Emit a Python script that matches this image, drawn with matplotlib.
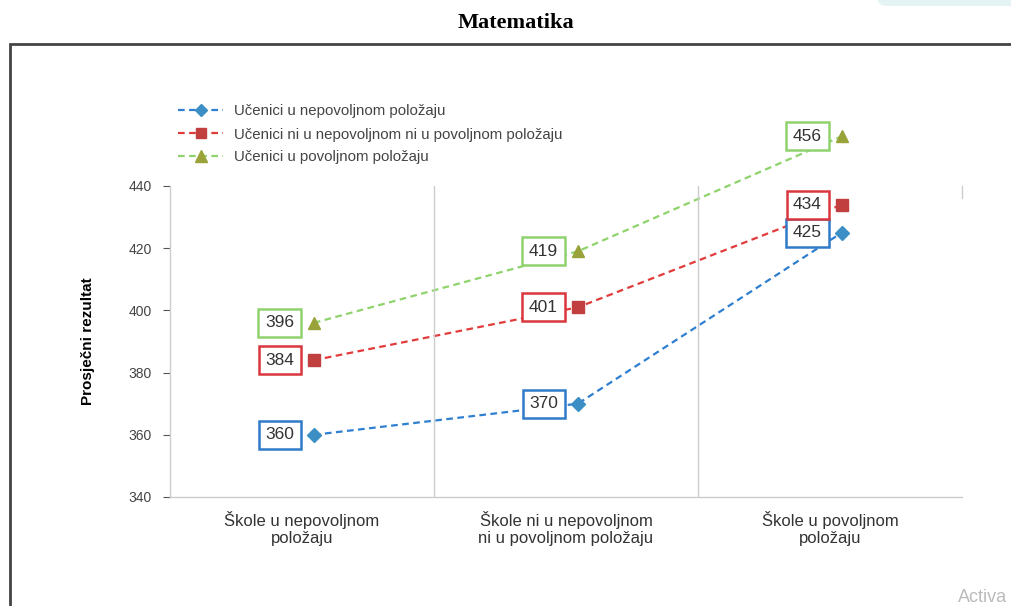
import matplotlib.pyplot as plt
from matplotlib.patches import Rectangle, FancyBboxPatch

# data
categories = ['Škole u nepovoljnom\npoložaju',
              'Škole ni u nepovoljnom\nni u povoljnom položaju',
              'Škole u povoljnom\npoložaju']
series_names = ['Učenici u nepovoljnom položaju',
                'Učenici ni u nepovoljnom ni u povoljnom položaju',
                'Učenici u povoljnom položaju']
nepovoljni = [360, 370, 425]
srednji = [384, 401, 434]
povoljni = [396, 419, 456]

plt.rcParams['font.family'] = ['Liberation Sans', 'DejaVu Sans']

fig = plt.figure(figsize=(10.12, 6.06), dpi=100)
ax = fig.add_axes([170 / 1012, 1 - 497 / 606, 792 / 1012, 311 / 606])

styles = [
    (nepovoljni, '#2f7fd0', 'D', '#3b8fc4', '#2f7bc8', 7),
    (srednji, '#e23b3b', 's', '#c1403f', '#d9363e', 8),
    (povoljni, '#8fd36c', '^', '#9aa33a', '#8ed36f', 9),
]

x = list(range(len(categories)))
xm = [i + 0.045 for i in x]
for (vals, lc, mk, mc, bc, ms), name in zip(styles, series_names):
    ax.plot(xm, vals, color=lc, ls=(0, (3, 2)), lw=1.6, marker=mk, ms=ms,
            markerfacecolor=mc, markeredgecolor=mc, label=name, clip_on=False)
    for xi, v in zip(xm, vals):
        ax.text(xi - 0.13, v, str(v), ha='center', va='center', fontsize=12.5,
                color='#333333',
                bbox=dict(boxstyle='square,pad=0.38', fc='white', ec=bc, lw=1.8))

ax.set_xlim(-0.5, 2.5)
ax.set_ylim(340, 440)
ax.set_yticks([340, 360, 380, 400, 420, 440])
ax.set_xticks(x)
ax.set_xticklabels(categories, fontsize=12, color='#333333')
ax.tick_params(axis='x', length=0, pad=10)
ax.tick_params(axis='y', labelsize=10, colors='#555555', length=5,
               width=0.8, pad=8)
for lab in ax.get_yticklabels():
    lab.set_color('#444444')
for sp in ['top', 'right']:
    ax.spines[sp].set_visible(False)
for sp in ['left', 'bottom']:
    ax.spines[sp].set_color('#cccccc')
    ax.spines[sp].set_linewidth(1.0)
ax.axvline(0.5, color='#cccccc', lw=1.0)
ax.axvline(1.5, color='#cccccc', lw=1.0)
ax.plot([2.5, 2.5], [436, 440], color='#cccccc', lw=1.0, clip_on=False)

ax.set_ylabel('Prosječni rezultat', fontsize=11, fontweight='bold',
              labelpad=24)

fig.legend(loc='upper left', bbox_to_anchor=(165 / 1012, 1 - 91 / 606),
           frameon=False, fontsize=10.8, handlelength=3.0, markerscale=0.9,
           labelspacing=0.6, handletextpad=0.7, labelcolor='#444444')

fig.text(0.51, 1 - 23 / 606, 'Matematika', ha='center', va='center',
         fontsize=16, fontweight='bold', family='Liberation Serif')

# outer frame and screen leftovers
fig.patches.append(Rectangle((10 / 1012, -0.1), 1.2, 1.1 - 44 / 606,
                             transform=fig.transFigure, fill=False,
                             ec='#444444', lw=2, figure=fig))
fig.patches.append(FancyBboxPatch((878 / 1012, 0.99), 0.2, 0.05,
                                  boxstyle='round,pad=0,rounding_size=0.01',
                                  transform=fig.transFigure, fc='#e4f3f4',
                                  ec='none', figure=fig))
fig.text(958 / 1012, 1 - 598 / 606, 'Activa', fontsize=13, color='#bbbbbb',
         va='center', ha='left')

fig.savefig('out.png', dpi=100)
